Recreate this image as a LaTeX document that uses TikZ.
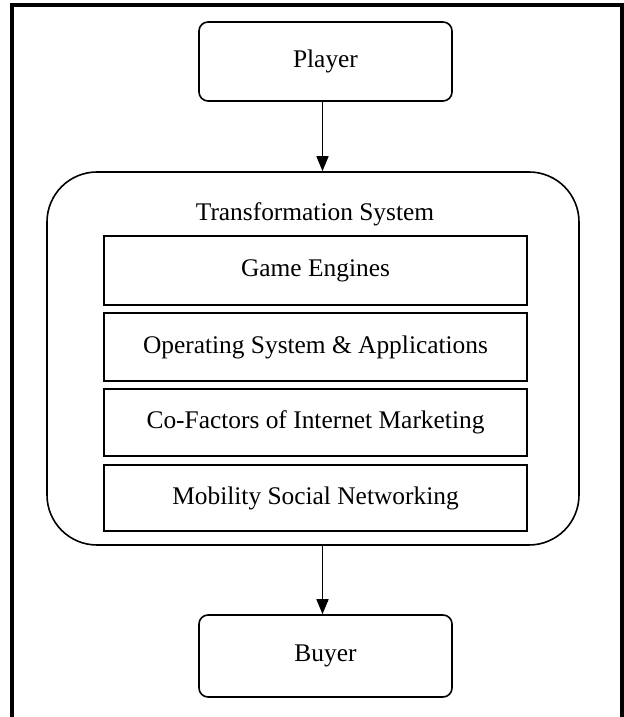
\documentclass[tikz,border=0pt]{standalone}
\usepackage{fontspec}
\setmainfont{Liberation Serif}
\usetikzlibrary{arrows.meta}

\begin{document}
\begin{tikzpicture}[x=0.5pt,y=0.5pt,
	font=\fontsize{12.7}{15}\selectfont,
	endbox/.style={draw, line width=0.8pt, rounded corners=4.5pt, minimum width=126.5pt, inner sep=0pt},
	layer/.style={draw, line width=0.8pt, minimum width=211.5pt, minimum height=34pt, inner sep=0pt},
	flow/.style={-{Triangle[length=7.5pt,width=6pt]}, line width=0.8pt}]
		\useasboundingbox (0,0) rectangle (623,717);

		% frame round the figure
		\draw[line width=2pt] (12,0) -- (12,712) -- (622,712) -- (622,0);

		\node[endbox, minimum height=39.5pt] (player) at (325.5,655.5) {Player};

		\node[draw, line width=0.8pt, rounded corners=25pt, minimum width=266pt, minimum height=186.5pt] (system) at (313,358.5) {};
		\node (title) at (315,503) {Transformation System};

		\node[layer, minimum height=34.5pt] (engines) at (315.5,446.5) {Game Engines};
		\node[layer, line width=1.4pt] (os) at (315.5,370) {Operating System \& Applications};
		\node[layer, minimum height=33.5pt] (cofactors) at (315.5,294.5) {Co-Factors of Internet Marketing};
		\node[layer, minimum height=33pt] (mobility) at (315.5,219) {Mobility Social Networking};

		\node[endbox, minimum height=41pt] (buyer) at (325.5,61) {Buyer};

		\draw[flow] ([xshift=-1.5pt]player.south) -- ([xshift=-1.5pt]player.south |- system.north);
		\draw[flow] ([xshift=-1.5pt]player.south |- system.south) -- ([xshift=-1.5pt]buyer.north);
\end{tikzpicture}
\end{document}
